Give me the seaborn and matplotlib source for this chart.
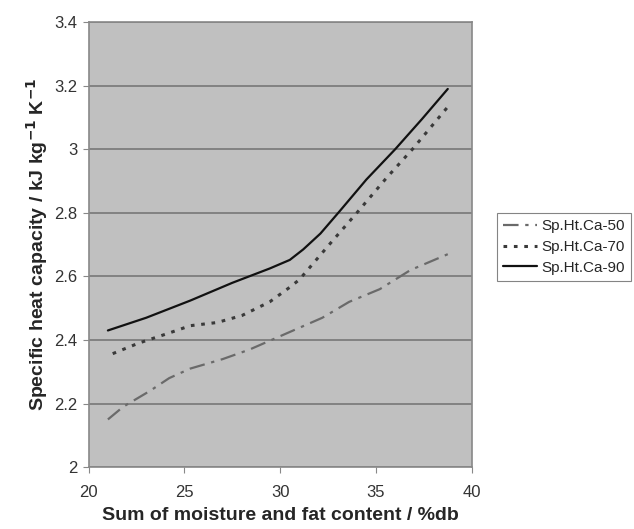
import pandas as pd
import seaborn as sns
from matplotlib import pyplot as plt

# values
x_ca50 = [21.0, 21.8, 23.2, 24.2, 25.3, 27.0, 28.4, 30.3, 32.2, 33.6, 35.2, 36.8, 38.75]
y_ca50 = [2.15, 2.19, 2.24, 2.28, 2.31, 2.34, 2.37, 2.42, 2.47, 2.52, 2.56, 2.62, 2.67]

x_ca70 = [21.25, 22.6, 24.1, 25.3, 26.7, 28.0, 29.45, 30.5, 31.0, 32.7, 34.0, 35.55, 36.9, 38.7]
y_ca70 = [2.357, 2.39, 2.42, 2.445, 2.455, 2.477, 2.52, 2.566, 2.59, 2.71, 2.80, 2.91, 3.0, 3.13]

x_ca90 = [21.0, 23.0, 25.3, 27.5, 29.45, 30.5, 31.2, 32.1, 33.1, 34.5, 36.0, 37.4, 38.75]
y_ca90 = [2.43, 2.47, 2.524, 2.58, 2.625, 2.652, 2.685, 2.735, 2.805, 2.905, 3.0, 3.095, 3.19]

names = ["Sp.Ht.Ca-50", "Sp.Ht.Ca-70", "Sp.Ht.Ca-90"]

df = pd.concat([
    pd.DataFrame({"x": x_ca50, "y": y_ca50, "series": names[0]}),
    pd.DataFrame({"x": x_ca70, "y": y_ca70, "series": names[1]}),
    pd.DataFrame({"x": x_ca90, "y": y_ca90, "series": names[2]}),
])

sns.set_style("ticks")
plt.rcParams['font.family'] = ['Liberation Sans', 'DejaVu Sans']

fig = plt.figure(figsize=(6.34, 5.29), dpi=100)
ax = fig.add_axes([0.140, 0.117, 0.604, 0.841])
ax.set_facecolor("#c0c0c0")

styles = {
    names[0]: dict(color="#6a6a6a", linestyle=(0, (7, 3, 1.5, 3)), linewidth=1.6),
    names[1]: dict(color="#3a3a3a", linestyle=(0, (1.2, 2.2)), linewidth=2.2),
    names[2]: dict(color="#111111", linestyle="-", linewidth=1.6),
}
for name in names:
    sub = df[df["series"] == name]
    sns.lineplot(data=sub, x="x", y="y", ax=ax, label=name, sort=False, **styles[name])

ax.set_xlim(20, 40)
ax.set_ylim(2, 3.4)
ax.set_xticks([20, 25, 30, 35, 40])
ax.set_xticklabels(["20", "25", "30", "35", "40"])
ax.set_yticks([2, 2.2, 2.4, 2.6, 2.8, 3, 3.2, 3.4])
ax.set_yticklabels(["2", "2.2", "2.4", "2.6", "2.8", "3", "3.2", "3.4"])
ax.yaxis.grid(True, color="#777777", linewidth=1.2)
ax.set_axisbelow(True)
for s in ax.spines.values():
    s.set_color("#888888")
    s.set_linewidth(1.2)
ax.tick_params(axis="both", labelsize=12, colors="#333333", length=4, color="#888888")
ax.tick_params(axis="x", pad=9)
ax.tick_params(axis="y", pad=4)

ax.set_xlabel("Sum of moisture and fat content / %db", fontsize=14, fontweight="bold", labelpad=5)
ax.set_ylabel("Specific heat capacity / kJ kg$^{\\mathbf{-1}}$ K$^{\\mathbf{-1}}$", fontsize=14,
              fontweight="bold", labelpad=3)

leg = ax.legend(loc="upper left", bbox_to_anchor=(0.772, 0.612), bbox_transform=fig.transFigure,
                frameon=True, fancybox=False, fontsize=11, handlelength=2.2, handletextpad=0.3,
                borderpad=0.4, labelspacing=0.45)
leg.get_frame().set_edgecolor("#666666")
leg.get_frame().set_linewidth(0.8)

plt.savefig("out.png", dpi=100)
